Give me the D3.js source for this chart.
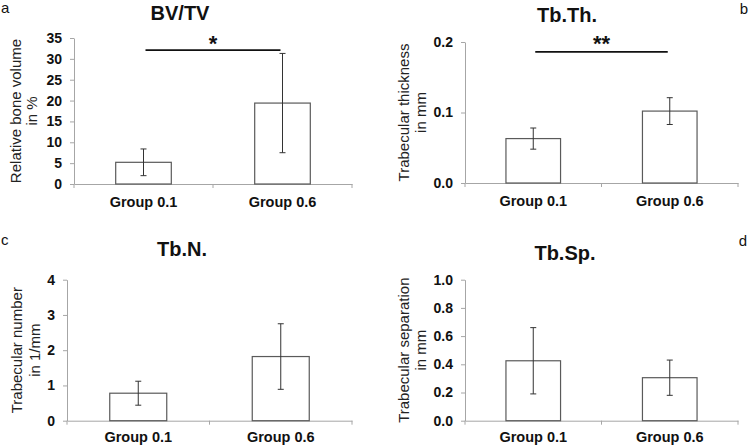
<!DOCTYPE html>
<html><head><meta charset="utf-8">
<script src="https://cdn.jsdelivr.net/npm/d3@7"></script>
<style>
html,body{margin:0;padding:0;background:#fff;}
svg{display:block;font-family:"Liberation Sans",Arial,sans-serif;}
</style></head>
<body>
<svg id="chart" width="749" height="446"></svg>
<script>
// ---- data ----
const categories = ["Group 0.1", "Group 0.6"];
const panelLetters = ["a", "b", "c", "d"];
const titles = ["BV/TV", "Tb.Th.", "Tb.N.", "Tb.Sp."];
const yLabels = [
  ["Relative bone volume", "in %"],
  ["Trabecular thickness", "in mm"],
  ["Trabecular number", "in 1/mm"],
  ["Trabecular separation", "in mm"]
];
const bvtvMean = [5.2, 19.4];
const bvtvErr  = [3.2, 11.9];
const tbthMean = [0.063, 0.102];
const tbthErr  = [0.015, 0.019];
const tbnMean  = [0.78, 1.82];
const tbnErr   = [0.34, 0.93];
const tbspMean = [0.425, 0.305];
const tbspErr  = [0.235, 0.125];
const bvtvTicks = [0, 5, 10, 15, 20, 25, 30, 35];
const tbthTicks = [0, 0.1, 0.2];
const tbnTicks  = [0, 1, 2, 3, 4];
const tbspTicks = [0, 0.2, 0.4, 0.6, 0.8, 1.0];
const sigLevel = [32.1, 0.186, null, null];
const sigLabel = ["*", "**", null, null];

// ---- layout (positions only) ----
const layout = [
  {x0: 74,  x1: 352,   yb: 184,   yt: 38,    fmt: d3.format("d"),   titleX: 180, titleY: 20,
   letterX: 1, letterY: 13, letterAnchor: "start", labX: [15, 31], sigY: 39, catDy: 22.5},
  {x0: 465, x1: 738,   yb: 183,   yt: 42,    fmt: d3.format(".1f"), titleX: 567, titleY: 22,
   letterX: 748, letterY: 14, letterAnchor: "end", labX: [403, 420], sigY: 39, catDy: 22.5},
  {x0: 67,  x1: 352,   yb: 420.7, yt: 279.7, fmt: d3.format("d"),   titleX: 182, titleY: 256,
   letterX: 1, letterY: 245, letterAnchor: "start", labX: [16, 34], catDy: 21.5},
  {x0: 465, x1: 738,   yb: 420.7, yt: 279.7, fmt: d3.format(".1f"), titleX: 565, titleY: 260,
   letterX: 747, letterY: 246, letterAnchor: "end", labX: [403, 420], catDy: 21.5}
];
const means = [bvtvMean, tbthMean, tbnMean, tbspMean];
const errs = [bvtvErr, tbthErr, tbnErr, tbspErr];
const ticks = [bvtvTicks, tbthTicks, tbnTicks, tbspTicks];

const svg = d3.select("#chart");
const axisColor = "#a6a6a6";

layout.forEach((L, i) => {
  const g = svg.append("g");
  const tv = ticks[i];
  const y = d3.scaleLinear().domain([0, d3.max(tv)]).range([L.yb, L.yt]);
  const x = d3.scaleBand().domain(categories).range([L.x0, L.x1])
              .paddingInner(0.6).paddingOuter(0.3);
  const xs = d3.scaleBand().domain(categories).range([L.x0, L.x1]).padding(0);

  // y axis
  const yAxis = g.append("g").attr("transform", `translate(${L.x0},0)`)
    .call(d3.axisLeft(y).tickValues(tv).tickFormat(L.fmt).tickSizeInner(4).tickSizeOuter(0).tickPadding(8));
  yAxis.select(".domain").attr("stroke", axisColor);
  yAxis.selectAll(".tick line").attr("stroke", axisColor);
  yAxis.selectAll(".tick text").attr("fill", "#111").attr("font-size", 14)
    .attr("font-weight", "bold").attr("font-family", "Liberation Sans, Arial, sans-serif");

  // x axis
  const xAxis = g.append("g").attr("transform", `translate(0,${L.yb})`)
    .call(d3.axisBottom(xs).tickSize(0).tickFormat(""));
  xAxis.select(".domain").attr("stroke", axisColor);
  xAxis.selectAll(".tick").remove();
  // category separator ticks
  g.selectAll(".sep").data([L.x0, xs(categories[1]), L.x1]).enter().append("line")
    .attr("x1", d => d).attr("x2", d => d).attr("y1", L.yb).attr("y2", L.yb + 4)
    .attr("stroke", axisColor);

  // category labels
  g.selectAll(".cat").data(categories).enter().append("text")
    .attr("x", d => x(d) + x.bandwidth() / 2).attr("y", L.yb + L.catDy)
    .attr("text-anchor", "middle").attr("font-size", 14.5).attr("font-weight", "bold")
    .attr("fill", "#111").text(d => d);

  // bars
  const data = categories.map((c, k) => ({c, m: means[i][k], e: errs[i][k]}));
  g.selectAll(".bar").data(data).enter().append("rect")
    .attr("x", d => x(d.c)).attr("width", x.bandwidth())
    .attr("y", d => y(d.m)).attr("height", d => y(0) - y(d.m))
    .attr("fill", "#fff").attr("stroke", "#5a5a5a").attr("stroke-width", 1.2);

  // error bars
  const cx = d => x(d.c) + x.bandwidth() / 2;
  const eb = g.selectAll(".err").data(data).enter().append("g").attr("stroke", "#333").attr("stroke-width", 1);
  eb.append("line").attr("x1", cx).attr("x2", cx).attr("y1", d => y(d.m - d.e)).attr("y2", d => y(d.m + d.e));
  eb.append("line").attr("x1", d => cx(d) - 3).attr("x2", d => cx(d) + 3).attr("y1", d => y(d.m - d.e)).attr("y2", d => y(d.m - d.e));
  eb.append("line").attr("x1", d => cx(d) - 3).attr("x2", d => cx(d) + 3).attr("y1", d => y(d.m + d.e)).attr("y2", d => y(d.m + d.e));

  // significance
  if (sigLevel[i] != null) {
    const a = cx(data[0]) + 2, b = cx(data[1]) - 2;
    g.append("line").attr("x1", a).attr("x2", b).attr("y1", y(sigLevel[i])).attr("y2", y(sigLevel[i]))
      .attr("stroke", "#111").attr("stroke-width", 1.6);
    g.append("text").attr("x", (a + b) / 2).attr("y", L.sigY + 12)
      .attr("text-anchor", "middle").attr("font-size", 22).attr("font-weight", "bold")
      .attr("fill", "#111").text(sigLabel[i]);
  }

  // title
  g.append("text").attr("x", L.titleX).attr("y", L.titleY).attr("text-anchor", "middle")
    .attr("font-size", 20).attr("font-weight", "bold").attr("fill", "#111").text(titles[i]);

  // panel letter
  g.append("text").attr("x", L.letterX).attr("y", L.letterY).attr("text-anchor", L.letterAnchor)
    .attr("font-size", 15).attr("fill", "#111").text(panelLetters[i]);

  // y label
  const cy = (L.yb + L.yt) / 2;
  yLabels[i].forEach((t, k) => {
    g.append("text").attr("transform", `translate(${L.labX[k]},${cy}) rotate(-90)`)
      .attr("text-anchor", "middle").attr("dominant-baseline", "central")
      .attr("font-size", 15).attr("fill", "#222").text(t);
  });
});
</script>
</body></html>
